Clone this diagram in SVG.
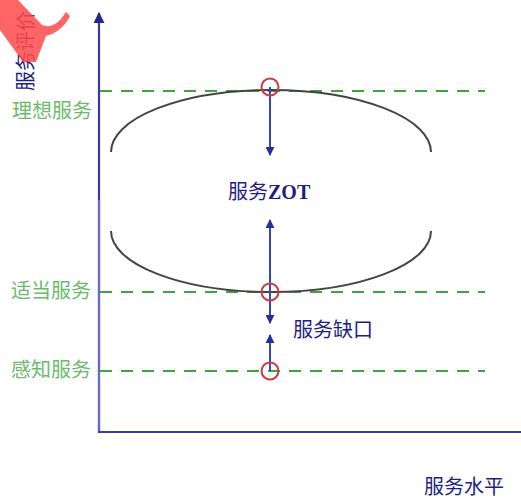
<svg xmlns="http://www.w3.org/2000/svg" width="521" height="499" viewBox="0 0 521 499">
<defs>
<style>
.axis{stroke:#3a3aa8;stroke-width:2.2;fill:none}
.dash{stroke:#3fa33f;stroke-width:2;stroke-dasharray:12,9;fill:none}
.arc{stroke:#444;stroke-width:2;fill:none}
.arr{stroke:#3548c0;stroke-width:2;fill:none}
.ring{stroke:#d03a3a;stroke-width:2;fill:none}
.lbl{font-family:"Noto Sans CJK SC","Liberation Sans",sans-serif;font-size:20px;fill:#6cbb6c}
.nv{font-family:"Noto Sans CJK SC","Liberation Sans",sans-serif;font-size:20px;fill:#1e1e84}
</style>
<marker id="ah" viewBox="0 0 10 10" refX="9" refY="5" markerWidth="4.5" markerHeight="4.5" orient="auto" markerUnits="strokeWidth">
<path d="M0,0 L10,5 L0,10 Z" fill="#26309a"/>
</marker>
<marker id="axh" viewBox="0 0 10 10" refX="9" refY="5" markerWidth="5" markerHeight="5" orient="auto" markerUnits="strokeWidth">
<path d="M0,0 L10,5 L0,10 Z" fill="#26268f"/>
</marker>
</defs>
<rect width="521" height="499" fill="#fff"/>
<g id="axes">
<line class="axis" x1="99" y1="432" x2="99" y2="13" marker-end="url(#axh)"/>
<line x1="99" y1="200" x2="99" y2="432" stroke="#6a6ac4" stroke-width="2.2"/>
<line class="axis" x1="98" y1="432" x2="521" y2="432"/>
</g>
<g id="levels">
<line class="dash" x1="100" y1="91" x2="485" y2="91"/>
<line class="dash" x1="100" y1="292" x2="485" y2="292"/>
<line class="dash" x1="100" y1="371" x2="485" y2="371"/>
</g>
<g id="ellipse">
<path class="arc" d="M111,152 A160,62 0 0 1 431,152"/>
<path class="arc" d="M111,231 A160,61 0 0 0 431,231"/>
</g>
<g id="connectors">
<line class="arr" x1="270" y1="87" x2="270" y2="155" marker-end="url(#ah)"/>
<line class="arr" x1="270" y1="292" x2="270" y2="220" marker-end="url(#ah)"/>
<line class="arr" x1="270" y1="292" x2="270" y2="323" marker-end="url(#ah)"/>
<line class="arr" x1="270" y1="371" x2="270" y2="335" marker-end="url(#ah)"/>
</g>
<g id="points">
<circle class="ring" cx="270" cy="87" r="8.5"/>
<circle class="ring" cx="270" cy="292" r="8.5"/>
<circle class="ring" cx="270" cy="371" r="8.5"/>
</g>
<g id="labels">
<text class="lbl" x="12" y="118" font-size="21">理想服务</text>
<text class="lbl" x="11" y="298" font-size="21">适当服务</text>
<text class="lbl" x="11" y="377" font-size="21">感知服务</text>
<text class="nv" x="228" y="199" font-size="19">服务<tspan font-family="Liberation Serif, serif" font-weight="bold">ZOT</tspan></text>
<text class="nv" x="293" y="337" font-size="21">服务缺口</text>
<text class="nv" x="424" y="494" font-size="20">服务水平</text>
<text class="nv" font-size="21" text-anchor="middle" transform="translate(33,51) rotate(-90)">服务评价</text>
</g>
<g id="mark">
<path d="M0,0 L18,0 L42,25 Q52,29 61,19 L66,12 L70,16 Q62,32 46,36 L36,62 L23,62 L0,30 Z" fill="#ff4a4a" opacity="0.85"/>
</g>
</svg>
